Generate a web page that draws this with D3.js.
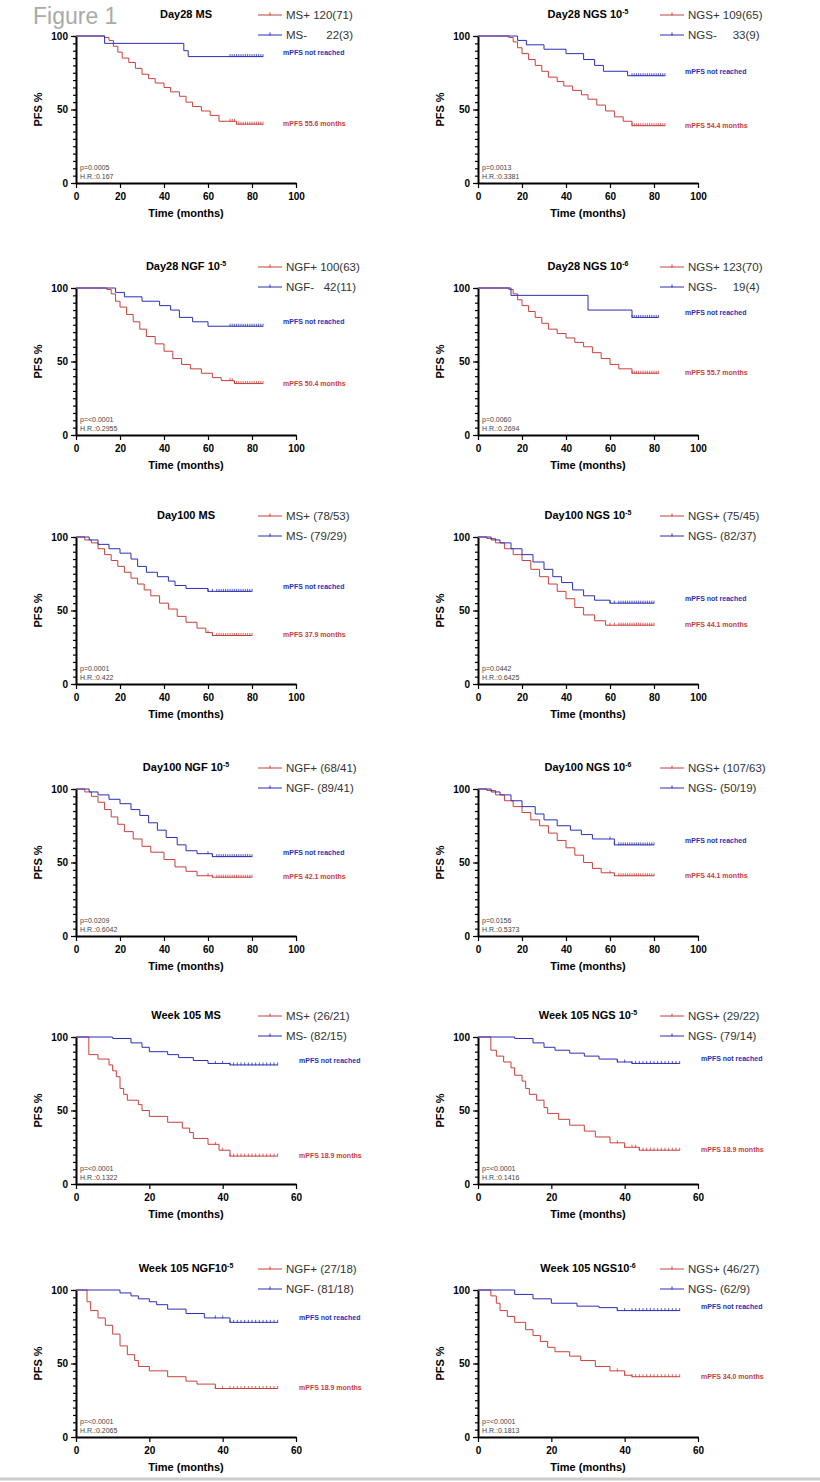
<!DOCTYPE html>
<html><head><meta charset="utf-8">
<script src="https://cdn.jsdelivr.net/npm/d3@7"></script>
<style>body{margin:0;background:#fff}text{font-family:"Liberation Sans",Arial,sans-serif}</style>
</head><body><svg width="820" height="1482"></svg>
<script>
// step knots [time, PFS%] ; censor times ; end time
const d28ms_pos = [[0,100],[13,99],[15,97],[17,93],[19,89],[21,85],[24,82],[27,78],[30,74],[33,71],[36,68],[40,65],[43,62],[47,59],[50,55],[53,52],[57,49],[61,46],[65,42],[73,40]]
const d28ms_neg = [[0,100],[13,95],[49,90],[51,86]]
const d28ngs5_pos = [[0,100],[14,99],[16,96],[18,92],[20,88],[23,84],[26,80],[29,76],[32,72],[36,69],[39,66],[43,63],[47,60],[50,57],[54,53],[58,49],[62,45],[66,42],[70,39]]
const d28ngs5_neg = [[0,100],[18,97],[22,94],[30,91],[40,88],[48,84],[53,80],[57,76],[68,73]]
const d28ngf_pos = [[0,100],[14,99],[16,96],[18,91],[20,87],[23,82],[26,77],[29,72],[32,67],[36,62],[40,57],[44,52],[48,48],[52,45],[57,42],[62,39],[66,37],[72,35]]
const d28ngf_neg = [[0,100],[18,97],[22,94],[30,91],[38,88],[43,85],[47,80],[53,77],[60,74]]
const d28ngs6_pos = [[0,100],[14,99],[16,96],[18,92],[20,88],[23,84],[26,80],[29,76],[32,72],[36,69],[40,66],[44,63],[48,60],[52,56],[56,52],[60,48],[64,45],[70,42]]
const d28ngs6_neg = [[0,100],[15,95],[50,85],[70,80]]
const d100ms_pos = [[0,100],[4,98],[7,96],[10,92],[13,88],[16,84],[19,80],[22,76],[25,72],[28,68],[31,64],[34,60],[38,55],[42,51],[46,46],[50,42],[55,38],[59,35],[62,33]]
const d100ms_neg = [[0,100],[6,98],[10,95],[15,92],[20,89],[25,85],[28,80],[32,76],[37,73],[42,70],[45,67],[50,65],[60,63]]
const d100ngs5_pos = [[0,100],[4,99],[8,96],[12,92],[16,88],[20,84],[24,78],[28,73],[32,68],[36,63],[40,58],[44,52],[48,47],[53,43],[58,40]]
const d100ngs5_neg = [[0,100],[6,98],[10,96],[15,92],[20,88],[25,83],[30,78],[34,73],[38,69],[43,64],[48,60],[53,57],[60,55]]
const d100ngf_pos = [[0,100],[4,98],[7,95],[10,91],[13,86],[16,81],[19,76],[22,71],[26,66],[30,61],[34,57],[40,52],[45,47],[50,44],[55,41],[62,40]]
const d100ngf_neg = [[0,100],[6,98],[10,96],[15,93],[20,90],[25,86],[29,82],[33,77],[37,72],[41,67],[46,62],[50,58],[55,56],[62,54]]
const d100ngs6_pos = [[0,100],[4,99],[8,96],[12,92],[16,88],[20,84],[24,79],[28,75],[32,70],[36,65],[40,60],[44,55],[48,50],[52,46],[56,43],[62,41]]
const d100ngs6_neg = [[0,100],[6,98],[10,96],[15,92],[20,88],[26,83],[30,79],[36,75],[42,72],[47,69],[52,66],[62,62]]
const w105ms_pos = [[0,100],[3.5,88],[6,85],[9,81],[10,77],[11,73],[12,65],[13,61],[14,57],[17,54],[18,50],[20,46],[25,42],[29,38],[31,35],[32,31],[36,27],[39,23],[42,19]]
const w105ms_neg = [[0,100],[10,99],[15,96],[18,93],[20,90],[25,88],[28,86],[32,84],[36,82],[42,81]]
const w105ngs5_pos = [[0,100],[3.5,91],[5,87],[7,83],[9,79],[10,74],[12,70],[13,65],[14,61],[16,57],[18,52],[19,48],[22,44],[25,40],[29,36],[32,32],[36,28],[40,25],[44,23]]
const w105ngs5_neg = [[0,100],[10,99],[15,96],[18,93],[21,91],[25,89],[29,87],[33,85],[38,83],[42,82]]
const w105ngf_pos = [[0,100],[3,92],[4,86],[6,81],[8,76],[10,70],[12,62],[14,56],[16,52],[17,48],[20,45],[25,41],[30,38],[33,36],[38,33]]
const w105ngf_neg = [[0,100],[12,98],[15,96],[17,94],[20,92],[22,90],[25,87],[30,84],[35,81],[42,78]]
const w105ngs6_pos = [[0,100],[3.5,96],[5,91],[6,86],[8,82],[10,78],[13,73],[15,69],[17,65],[19,61],[21,58],[25,55],[28,52],[32,48],[36,45],[40,42],[42,41]]
const w105ngs6_neg = [[0,100],[10,97],[15,94],[20,91],[27,89],[33,88],[38,86]]

const cens_long = [70,71,72,73,74,75,76,77,78,79,80,81,82,83,84,85]
const cens_mid = [60,62,64,65,66,67,68,69,70,71,72,73,74,75,76,77,78,79,80]
const cens_short = [38,40,42,43,44,45,46,47,48,49,50,51,52,53,54,55]

const titles = ["Day28 MS","Day28 NGS 10|-5","Day28 NGF 10|-5","Day28 NGS 10|-6","Day100 MS","Day100 NGS 10|-5","Day100 NGF 10|-5","Day100 NGS 10|-6","Week 105 MS","Week 105 NGS 10|-5","Week 105 NGF10|-5","Week 105 NGS10|-6"]
const posLabels = ["MS+ 120(71)","NGS+ 109(65)","NGF+ 100(63)","NGS+ 123(70)","MS+ (78/53)","NGS+ (75/45)","NGF+ (68/41)","NGS+ (107/63)","MS+ (26/21)","NGS+ (29/22)","NGF+ (27/18)","NGS+ (46/27)"]
const negLabels = ["MS-      22(3)","NGS-     33(9)","NGF-   42(11)","NGS-     19(4)","MS- (79/29)","NGS- (82/37)","NGF- (89/41)","NGS- (50/19)","MS- (82/15)","NGS- (79/14)","NGF- (81/18)","NGS- (62/9)"]
const mpfs = ["55.6","54.4","50.4","55.7","37.9","44.1","42.1","44.1","18.9","18.9","18.9","34.0"]
const pvals = ["0.0005","0.0013","<0.0001","0.0060","0.0001","0.0442","0.0209","0.0156","<0.0001","<0.0001","<0.0001","<0.0001"]
const hrs = ["0.167","0.3381","0.2955","0.2694","0.422","0.6425","0.6042","0.5373","0.1322","0.1416","0.2065","0.1813"]
const xMax = [100,100,100,100,100,100,100,100,60,60,60,60]
const endT = [85,85,85,82,80,80,80,80,55,55,55,55]

const posCurves = [d28ms_pos,d28ngs5_pos,d28ngf_pos,d28ngs6_pos,d100ms_pos,d100ngs5_pos,d100ngf_pos,d100ngs6_pos,w105ms_pos,w105ngs5_pos,w105ngf_pos,w105ngs6_pos]
const negCurves = [d28ms_neg,d28ngs5_neg,d28ngf_neg,d28ngs6_neg,d100ms_neg,d100ngs5_neg,d100ngf_neg,d100ngs6_neg,w105ms_neg,w105ngs5_neg,w105ngf_neg,w105ngs6_neg]

const RED = "#c8403a", BLUE = "#2a2fb5"
const colX = [76, 478], rowY = [36, 288, 537, 789, 1037, 1290]
const W = 220, H = 147

const svg = d3.select("svg")
svg.append("text").attr("x",33).attr("y",24).attr("font-size",23).attr("fill","#aaa").text("Figure 1")
svg.append("line").attr("x1",0).attr("x2",820).attr("y1",1479).attr("y2",1479).attr("stroke","#ccc").attr("stroke-width",3)

const bis = d3.bisector(d => d[0]).right
function surv(c, t){ return c[Math.max(0, bis(c, t) - 1)][1] }

titles.forEach((title, i) => {
  const col = i % 2, row = Math.floor(i / 2)
  const g = svg.append("g").attr("transform", "translate(" + colX[col] + "," + rowY[row] + ")")
  const x = d3.scaleLinear().domain([0, xMax[i]]).range([0, W])
  const y = d3.scaleLinear().domain([0, 100]).range([H, 0])

  // axes
  const gx = g.append("g").attr("transform", "translate(0," + H + ")")
    .call(d3.axisBottom(x).ticks(xMax[i] / 20).tickSize(5).tickSizeOuter(0))
  gx.selectAll("text").attr("font-size", 10).attr("font-weight", "bold").attr("dy", "0.9em")
  const gy = g.append("g").call(d3.axisLeft(y).tickValues([0, 50, 100]).tickSize(5).tickSizeOuter(0))
  gy.selectAll("text").attr("font-size", 10).attr("font-weight", "bold")
  g.append("g").call(d3.axisLeft(y).tickValues(d3.range(0, 101, 5)).tickSize(3).tickFormat("").tickSizeOuter(0))
    .select(".domain").remove()
  g.selectAll(".domain").attr("stroke-width", 2)
  g.selectAll(".tick line").attr("stroke-width", 1.2)

  g.append("text").attr("x", W / 2).attr("y", H + 34).attr("text-anchor", "middle")
    .attr("font-size", 11).attr("font-weight", "bold").text("Time (months)")
  g.append("text").attr("transform", "translate(-34," + (H / 2) + ") rotate(-90)").attr("text-anchor", "middle")
    .attr("font-size", 11).attr("font-weight", "bold").text("PFS %")

  // title with superscript
  const parts = title.split("|")
  const tt = g.append("text").attr("x", 110).attr("y", -18).attr("text-anchor", "middle")
    .attr("font-size", 11).attr("font-weight", "bold").text(parts[0])
  if (parts[1]) tt.append("tspan").attr("dy", -4).attr("font-size", 7).text(parts[1])

  // legend
  ;[[posLabels[i], RED, -21], [negLabels[i], BLUE, -1]].forEach(([lab, c, ly]) => {
    g.append("line").attr("x1", 182).attr("x2", 206).attr("y1", ly).attr("y2", ly).attr("stroke", c)
    g.append("line").attr("x1", 194).attr("x2", 194).attr("y1", ly - 2.5).attr("y2", ly + 0.5).attr("stroke", c)
    g.append("text").attr("x", 210).attr("y", ly + 4).attr("font-size", 11.5).attr("fill", "#333")
      .attr("xml:space", "preserve").style("white-space", "pre").text(lab)
  })

  // curves
  const line = d3.line().curve(d3.curveStepAfter).x(d => x(d[0])).y(d => y(d[1]))
  const cens = xMax[i] == 60 ? cens_short : (endT[i] == 80 ? cens_mid : cens_long)
  ;[[posCurves[i], RED], [negCurves[i], BLUE]].forEach(([c, col2]) => {
    const pts = c.concat([[endT[i], c[c.length - 1][1]]])
    g.append("path").attr("d", line(pts)).attr("fill", "none").attr("stroke", col2).attr("stroke-width", 1)
    g.selectAll(null).data(cens.filter(t => t <= endT[i])).enter().append("line")
      .attr("x1", t => x(t)).attr("x2", t => x(t))
      .attr("y1", t => y(surv(c, t)) - 2.5).attr("y2", t => y(surv(c, t)) + 0.5)
      .attr("stroke", col2).attr("stroke-width", 0.8)
  })

  const lx = xMax[i] == 60 ? 223 : 207
  const nEnd = negCurves[i][negCurves[i].length - 1][1], pEnd = posCurves[i][posCurves[i].length - 1][1]
  g.append("text").attr("x", lx).attr("y", y(nEnd) - 2).attr("font-size", 7).attr("font-weight", "bold")
    .attr("fill", BLUE).text("mPFS not reached")
  g.append("text").attr("x", lx).attr("y", y(pEnd) + 2).attr("font-size", 7).attr("font-weight", "bold")
    .attr("fill", RED).text("mPFS " + mpfs[i] + " months")

  g.append("text").attr("x", 4).attr("y", H - 13).attr("font-size", 7).attr("fill", "#444").text("p=" + pvals[i])
  g.append("text").attr("x", 4).attr("y", H - 4).attr("font-size", 7).attr("fill", "#444").text("H.R.:" + hrs[i])
})
</script></body></html>
